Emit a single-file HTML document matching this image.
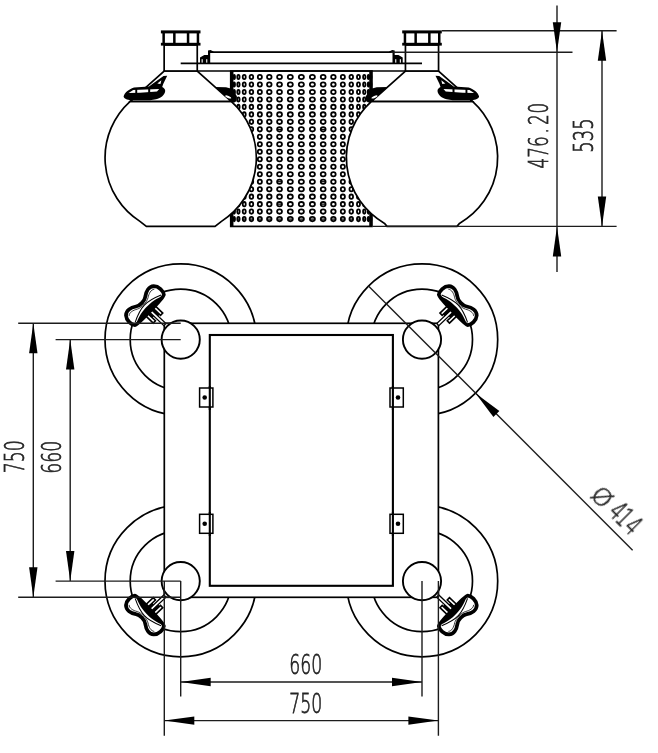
<!DOCTYPE html>
<html lang="en"><head><meta charset="utf-8"><title>Drawing 750 x 750, 476.20 / 535, Ø414</title>
<style>html,body{margin:0;padding:0;background:#fff}body{width:658px;height:753px;overflow:hidden}svg{display:block}.o{fill:none;stroke:#000;stroke-width:1.7}.w{fill:#fff;stroke:#000;stroke-width:1.7}.k{fill:#000;stroke:none}.d{fill:none;stroke:#1c1c1c;stroke-width:1.4}.a{fill:#000;stroke:none}.t{font-family:"DejaVu Sans Light","DejaVu Sans","Liberation Sans",sans-serif;font-weight:200;font-size:26.3px;fill:#222;stroke:#222;stroke-width:0.65px;vector-effect:non-scaling-stroke}.h{fill:none;stroke:#000;stroke-width:1.8}</style></head><body>
<svg width="658" height="753" viewBox="0 0 658 753">
<rect width="658" height="753" fill="#fff"/>
<g id="elevation">
<rect class="w" x="230.75" y="71" width="141.2" height="155.4"/>
<rect class="k" x="230.75" y="71" width="2.7" height="155.4"/>
<rect class="k" x="369.25" y="71" width="2.7" height="155.4"/>
<g class="h">
<ellipse cx="231.62" cy="77" rx="0.4" ry="2.15"/>
<ellipse cx="231.62" cy="84.48" rx="0.4" ry="2.15"/>
<ellipse cx="231.62" cy="91.96" rx="0.4" ry="2.15"/>
<ellipse cx="231.62" cy="99.44" rx="0.4" ry="2.15"/>
<ellipse cx="231.62" cy="106.92" rx="0.4" ry="2.15"/>
<ellipse cx="231.62" cy="114.4" rx="0.4" ry="2.15"/>
<ellipse cx="231.62" cy="121.87" rx="0.4" ry="2.15"/>
<ellipse cx="231.62" cy="129.35" rx="0.4" ry="2.15"/>
<ellipse cx="231.62" cy="136.83" rx="0.4" ry="2.15"/>
<ellipse cx="231.62" cy="144.31" rx="0.4" ry="2.15"/>
<ellipse cx="231.62" cy="151.79" rx="0.4" ry="2.15"/>
<ellipse cx="231.62" cy="159.27" rx="0.4" ry="2.15"/>
<ellipse cx="231.62" cy="166.75" rx="0.4" ry="2.15"/>
<ellipse cx="231.62" cy="174.23" rx="0.4" ry="2.15"/>
<ellipse cx="231.62" cy="181.71" rx="0.4" ry="2.15"/>
<ellipse cx="231.62" cy="189.19" rx="0.4" ry="2.15"/>
<ellipse cx="231.62" cy="196.66" rx="0.4" ry="2.15"/>
<ellipse cx="231.62" cy="204.14" rx="0.4" ry="2.15"/>
<ellipse cx="231.62" cy="211.62" rx="0.4" ry="2.15"/>
<ellipse cx="231.62" cy="219.1" rx="0.4" ry="2.15"/>
<ellipse cx="234.21" cy="77" rx="0.79" ry="2.15"/>
<ellipse cx="234.21" cy="84.48" rx="0.79" ry="2.15"/>
<ellipse cx="234.21" cy="91.96" rx="0.79" ry="2.15"/>
<ellipse cx="234.21" cy="99.44" rx="0.79" ry="2.15"/>
<ellipse cx="234.21" cy="106.92" rx="0.79" ry="2.15"/>
<ellipse cx="234.21" cy="114.4" rx="0.79" ry="2.15"/>
<ellipse cx="234.21" cy="121.87" rx="0.79" ry="2.15"/>
<ellipse cx="234.21" cy="129.35" rx="0.79" ry="2.15"/>
<ellipse cx="234.21" cy="136.83" rx="0.79" ry="2.15"/>
<ellipse cx="234.21" cy="144.31" rx="0.79" ry="2.15"/>
<ellipse cx="234.21" cy="151.79" rx="0.79" ry="2.15"/>
<ellipse cx="234.21" cy="159.27" rx="0.79" ry="2.15"/>
<ellipse cx="234.21" cy="166.75" rx="0.79" ry="2.15"/>
<ellipse cx="234.21" cy="174.23" rx="0.79" ry="2.15"/>
<ellipse cx="234.21" cy="181.71" rx="0.79" ry="2.15"/>
<ellipse cx="234.21" cy="189.19" rx="0.79" ry="2.15"/>
<ellipse cx="234.21" cy="196.66" rx="0.79" ry="2.15"/>
<ellipse cx="234.21" cy="204.14" rx="0.79" ry="2.15"/>
<ellipse cx="234.21" cy="211.62" rx="0.79" ry="2.15"/>
<ellipse cx="234.21" cy="219.1" rx="0.79" ry="2.15"/>
<ellipse cx="238.44" cy="77" rx="1.16" ry="2.15"/>
<ellipse cx="238.44" cy="84.48" rx="1.16" ry="2.15"/>
<ellipse cx="238.44" cy="91.96" rx="1.16" ry="2.15"/>
<ellipse cx="238.44" cy="99.44" rx="1.16" ry="2.15"/>
<ellipse cx="238.44" cy="106.92" rx="1.16" ry="2.15"/>
<ellipse cx="238.44" cy="114.4" rx="1.16" ry="2.15"/>
<ellipse cx="238.44" cy="121.87" rx="1.16" ry="2.15"/>
<ellipse cx="238.44" cy="129.35" rx="1.16" ry="2.15"/>
<ellipse cx="238.44" cy="136.83" rx="1.16" ry="2.15"/>
<ellipse cx="238.44" cy="144.31" rx="1.16" ry="2.15"/>
<ellipse cx="238.44" cy="151.79" rx="1.16" ry="2.15"/>
<ellipse cx="238.44" cy="159.27" rx="1.16" ry="2.15"/>
<ellipse cx="238.44" cy="166.75" rx="1.16" ry="2.15"/>
<ellipse cx="238.44" cy="174.23" rx="1.16" ry="2.15"/>
<ellipse cx="238.44" cy="181.71" rx="1.16" ry="2.15"/>
<ellipse cx="238.44" cy="189.19" rx="1.16" ry="2.15"/>
<ellipse cx="238.44" cy="196.66" rx="1.16" ry="2.15"/>
<ellipse cx="238.44" cy="204.14" rx="1.16" ry="2.15"/>
<ellipse cx="238.44" cy="211.62" rx="1.16" ry="2.15"/>
<ellipse cx="238.44" cy="219.1" rx="1.16" ry="2.15"/>
<ellipse cx="244.23" cy="77" rx="1.5" ry="2.15"/>
<ellipse cx="244.23" cy="84.48" rx="1.5" ry="2.15"/>
<ellipse cx="244.23" cy="91.96" rx="1.5" ry="2.15"/>
<ellipse cx="244.23" cy="99.44" rx="1.5" ry="2.15"/>
<ellipse cx="244.23" cy="106.92" rx="1.5" ry="2.15"/>
<ellipse cx="244.23" cy="114.4" rx="1.5" ry="2.15"/>
<ellipse cx="244.23" cy="121.87" rx="1.5" ry="2.15"/>
<ellipse cx="244.23" cy="129.35" rx="1.5" ry="2.15"/>
<ellipse cx="244.23" cy="136.83" rx="1.5" ry="2.15"/>
<ellipse cx="244.23" cy="144.31" rx="1.5" ry="2.15"/>
<ellipse cx="244.23" cy="151.79" rx="1.5" ry="2.15"/>
<ellipse cx="244.23" cy="159.27" rx="1.5" ry="2.15"/>
<ellipse cx="244.23" cy="166.75" rx="1.5" ry="2.15"/>
<ellipse cx="244.23" cy="174.23" rx="1.5" ry="2.15"/>
<ellipse cx="244.23" cy="181.71" rx="1.5" ry="2.15"/>
<ellipse cx="244.23" cy="189.19" rx="1.5" ry="2.15"/>
<ellipse cx="244.23" cy="196.66" rx="1.5" ry="2.15"/>
<ellipse cx="244.23" cy="204.14" rx="1.5" ry="2.15"/>
<ellipse cx="244.23" cy="211.62" rx="1.5" ry="2.15"/>
<ellipse cx="244.23" cy="219.1" rx="1.5" ry="2.15"/>
<ellipse cx="251.43" cy="77" rx="1.8" ry="2.15"/>
<ellipse cx="251.43" cy="84.48" rx="1.8" ry="2.15"/>
<ellipse cx="251.43" cy="91.96" rx="1.8" ry="2.15"/>
<ellipse cx="251.43" cy="99.44" rx="1.8" ry="2.15"/>
<ellipse cx="251.43" cy="106.92" rx="1.8" ry="2.15"/>
<ellipse cx="251.43" cy="114.4" rx="1.8" ry="2.15"/>
<ellipse cx="251.43" cy="121.87" rx="1.8" ry="2.15"/>
<ellipse cx="251.43" cy="129.35" rx="1.8" ry="2.15"/>
<ellipse cx="251.43" cy="136.83" rx="1.8" ry="2.15"/>
<ellipse cx="251.43" cy="144.31" rx="1.8" ry="2.15"/>
<ellipse cx="251.43" cy="151.79" rx="1.8" ry="2.15"/>
<ellipse cx="251.43" cy="159.27" rx="1.8" ry="2.15"/>
<ellipse cx="251.43" cy="166.75" rx="1.8" ry="2.15"/>
<ellipse cx="251.43" cy="174.23" rx="1.8" ry="2.15"/>
<ellipse cx="251.43" cy="181.71" rx="1.8" ry="2.15"/>
<ellipse cx="251.43" cy="189.19" rx="1.8" ry="2.15"/>
<ellipse cx="251.43" cy="196.66" rx="1.8" ry="2.15"/>
<ellipse cx="251.43" cy="204.14" rx="1.8" ry="2.15"/>
<ellipse cx="251.43" cy="211.62" rx="1.8" ry="2.15"/>
<ellipse cx="251.43" cy="219.1" rx="1.8" ry="2.15"/>
<ellipse cx="259.85" cy="77" rx="2.06" ry="2.15"/>
<ellipse cx="259.85" cy="84.48" rx="2.06" ry="2.15"/>
<ellipse cx="259.85" cy="91.96" rx="2.06" ry="2.15"/>
<ellipse cx="259.85" cy="99.44" rx="2.06" ry="2.15"/>
<ellipse cx="259.85" cy="106.92" rx="2.06" ry="2.15"/>
<ellipse cx="259.85" cy="114.4" rx="2.06" ry="2.15"/>
<ellipse cx="259.85" cy="121.87" rx="2.06" ry="2.15"/>
<ellipse cx="259.85" cy="129.35" rx="2.06" ry="2.15"/>
<ellipse cx="259.85" cy="136.83" rx="2.06" ry="2.15"/>
<ellipse cx="259.85" cy="144.31" rx="2.06" ry="2.15"/>
<ellipse cx="259.85" cy="151.79" rx="2.06" ry="2.15"/>
<ellipse cx="259.85" cy="159.27" rx="2.06" ry="2.15"/>
<ellipse cx="259.85" cy="166.75" rx="2.06" ry="2.15"/>
<ellipse cx="259.85" cy="174.23" rx="2.06" ry="2.15"/>
<ellipse cx="259.85" cy="181.71" rx="2.06" ry="2.15"/>
<ellipse cx="259.85" cy="189.19" rx="2.06" ry="2.15"/>
<ellipse cx="259.85" cy="196.66" rx="2.06" ry="2.15"/>
<ellipse cx="259.85" cy="204.14" rx="2.06" ry="2.15"/>
<ellipse cx="259.85" cy="211.62" rx="2.06" ry="2.15"/>
<ellipse cx="259.85" cy="219.1" rx="2.06" ry="2.15"/>
<ellipse cx="269.3" cy="77" rx="2.27" ry="2.15"/>
<ellipse cx="269.3" cy="84.48" rx="2.27" ry="2.15"/>
<ellipse cx="269.3" cy="91.96" rx="2.27" ry="2.15"/>
<ellipse cx="269.3" cy="99.44" rx="2.27" ry="2.15"/>
<ellipse cx="269.3" cy="106.92" rx="2.27" ry="2.15"/>
<ellipse cx="269.3" cy="114.4" rx="2.27" ry="2.15"/>
<ellipse cx="269.3" cy="121.87" rx="2.27" ry="2.15"/>
<ellipse cx="269.3" cy="129.35" rx="2.27" ry="2.15"/>
<ellipse cx="269.3" cy="136.83" rx="2.27" ry="2.15"/>
<ellipse cx="269.3" cy="144.31" rx="2.27" ry="2.15"/>
<ellipse cx="269.3" cy="151.79" rx="2.27" ry="2.15"/>
<ellipse cx="269.3" cy="159.27" rx="2.27" ry="2.15"/>
<ellipse cx="269.3" cy="166.75" rx="2.27" ry="2.15"/>
<ellipse cx="269.3" cy="174.23" rx="2.27" ry="2.15"/>
<ellipse cx="269.3" cy="181.71" rx="2.27" ry="2.15"/>
<ellipse cx="269.3" cy="189.19" rx="2.27" ry="2.15"/>
<ellipse cx="269.3" cy="196.66" rx="2.27" ry="2.15"/>
<ellipse cx="269.3" cy="204.14" rx="2.27" ry="2.15"/>
<ellipse cx="269.3" cy="211.62" rx="2.27" ry="2.15"/>
<ellipse cx="269.3" cy="219.1" rx="2.27" ry="2.15"/>
<ellipse cx="279.53" cy="77" rx="2.43" ry="2.15"/>
<ellipse cx="279.53" cy="84.48" rx="2.43" ry="2.15"/>
<ellipse cx="279.53" cy="91.96" rx="2.43" ry="2.15"/>
<ellipse cx="279.53" cy="99.44" rx="2.43" ry="2.15"/>
<ellipse cx="279.53" cy="106.92" rx="2.43" ry="2.15"/>
<ellipse cx="279.53" cy="114.4" rx="2.43" ry="2.15"/>
<ellipse cx="279.53" cy="121.87" rx="2.43" ry="2.15"/>
<ellipse cx="279.53" cy="129.35" rx="2.43" ry="2.15"/>
<ellipse cx="279.53" cy="136.83" rx="2.43" ry="2.15"/>
<ellipse cx="279.53" cy="144.31" rx="2.43" ry="2.15"/>
<ellipse cx="279.53" cy="151.79" rx="2.43" ry="2.15"/>
<ellipse cx="279.53" cy="159.27" rx="2.43" ry="2.15"/>
<ellipse cx="279.53" cy="166.75" rx="2.43" ry="2.15"/>
<ellipse cx="279.53" cy="174.23" rx="2.43" ry="2.15"/>
<ellipse cx="279.53" cy="181.71" rx="2.43" ry="2.15"/>
<ellipse cx="279.53" cy="189.19" rx="2.43" ry="2.15"/>
<ellipse cx="279.53" cy="196.66" rx="2.43" ry="2.15"/>
<ellipse cx="279.53" cy="204.14" rx="2.43" ry="2.15"/>
<ellipse cx="279.53" cy="211.62" rx="2.43" ry="2.15"/>
<ellipse cx="279.53" cy="219.1" rx="2.43" ry="2.15"/>
<ellipse cx="290.31" cy="77" rx="2.52" ry="2.15"/>
<ellipse cx="290.31" cy="84.48" rx="2.52" ry="2.15"/>
<ellipse cx="290.31" cy="91.96" rx="2.52" ry="2.15"/>
<ellipse cx="290.31" cy="99.44" rx="2.52" ry="2.15"/>
<ellipse cx="290.31" cy="106.92" rx="2.52" ry="2.15"/>
<ellipse cx="290.31" cy="114.4" rx="2.52" ry="2.15"/>
<ellipse cx="290.31" cy="121.87" rx="2.52" ry="2.15"/>
<ellipse cx="290.31" cy="129.35" rx="2.52" ry="2.15"/>
<ellipse cx="290.31" cy="136.83" rx="2.52" ry="2.15"/>
<ellipse cx="290.31" cy="144.31" rx="2.52" ry="2.15"/>
<ellipse cx="290.31" cy="151.79" rx="2.52" ry="2.15"/>
<ellipse cx="290.31" cy="159.27" rx="2.52" ry="2.15"/>
<ellipse cx="290.31" cy="166.75" rx="2.52" ry="2.15"/>
<ellipse cx="290.31" cy="174.23" rx="2.52" ry="2.15"/>
<ellipse cx="290.31" cy="181.71" rx="2.52" ry="2.15"/>
<ellipse cx="290.31" cy="189.19" rx="2.52" ry="2.15"/>
<ellipse cx="290.31" cy="196.66" rx="2.52" ry="2.15"/>
<ellipse cx="290.31" cy="204.14" rx="2.52" ry="2.15"/>
<ellipse cx="290.31" cy="211.62" rx="2.52" ry="2.15"/>
<ellipse cx="290.31" cy="219.1" rx="2.52" ry="2.15"/>
<ellipse cx="301.35" cy="77" rx="2.55" ry="2.15"/>
<ellipse cx="301.35" cy="84.48" rx="2.55" ry="2.15"/>
<ellipse cx="301.35" cy="91.96" rx="2.55" ry="2.15"/>
<ellipse cx="301.35" cy="99.44" rx="2.55" ry="2.15"/>
<ellipse cx="301.35" cy="106.92" rx="2.55" ry="2.15"/>
<ellipse cx="301.35" cy="114.4" rx="2.55" ry="2.15"/>
<ellipse cx="301.35" cy="121.87" rx="2.55" ry="2.15"/>
<ellipse cx="301.35" cy="129.35" rx="2.55" ry="2.15"/>
<ellipse cx="301.35" cy="136.83" rx="2.55" ry="2.15"/>
<ellipse cx="301.35" cy="144.31" rx="2.55" ry="2.15"/>
<ellipse cx="301.35" cy="151.79" rx="2.55" ry="2.15"/>
<ellipse cx="301.35" cy="159.27" rx="2.55" ry="2.15"/>
<ellipse cx="301.35" cy="166.75" rx="2.55" ry="2.15"/>
<ellipse cx="301.35" cy="174.23" rx="2.55" ry="2.15"/>
<ellipse cx="301.35" cy="181.71" rx="2.55" ry="2.15"/>
<ellipse cx="301.35" cy="189.19" rx="2.55" ry="2.15"/>
<ellipse cx="301.35" cy="196.66" rx="2.55" ry="2.15"/>
<ellipse cx="301.35" cy="204.14" rx="2.55" ry="2.15"/>
<ellipse cx="301.35" cy="211.62" rx="2.55" ry="2.15"/>
<ellipse cx="301.35" cy="219.1" rx="2.55" ry="2.15"/>
<ellipse cx="312.39" cy="77" rx="2.52" ry="2.15"/>
<ellipse cx="312.39" cy="84.48" rx="2.52" ry="2.15"/>
<ellipse cx="312.39" cy="91.96" rx="2.52" ry="2.15"/>
<ellipse cx="312.39" cy="99.44" rx="2.52" ry="2.15"/>
<ellipse cx="312.39" cy="106.92" rx="2.52" ry="2.15"/>
<ellipse cx="312.39" cy="114.4" rx="2.52" ry="2.15"/>
<ellipse cx="312.39" cy="121.87" rx="2.52" ry="2.15"/>
<ellipse cx="312.39" cy="129.35" rx="2.52" ry="2.15"/>
<ellipse cx="312.39" cy="136.83" rx="2.52" ry="2.15"/>
<ellipse cx="312.39" cy="144.31" rx="2.52" ry="2.15"/>
<ellipse cx="312.39" cy="151.79" rx="2.52" ry="2.15"/>
<ellipse cx="312.39" cy="159.27" rx="2.52" ry="2.15"/>
<ellipse cx="312.39" cy="166.75" rx="2.52" ry="2.15"/>
<ellipse cx="312.39" cy="174.23" rx="2.52" ry="2.15"/>
<ellipse cx="312.39" cy="181.71" rx="2.52" ry="2.15"/>
<ellipse cx="312.39" cy="189.19" rx="2.52" ry="2.15"/>
<ellipse cx="312.39" cy="196.66" rx="2.52" ry="2.15"/>
<ellipse cx="312.39" cy="204.14" rx="2.52" ry="2.15"/>
<ellipse cx="312.39" cy="211.62" rx="2.52" ry="2.15"/>
<ellipse cx="312.39" cy="219.1" rx="2.52" ry="2.15"/>
<ellipse cx="323.17" cy="77" rx="2.43" ry="2.15"/>
<ellipse cx="323.17" cy="84.48" rx="2.43" ry="2.15"/>
<ellipse cx="323.17" cy="91.96" rx="2.43" ry="2.15"/>
<ellipse cx="323.17" cy="99.44" rx="2.43" ry="2.15"/>
<ellipse cx="323.17" cy="106.92" rx="2.43" ry="2.15"/>
<ellipse cx="323.17" cy="114.4" rx="2.43" ry="2.15"/>
<ellipse cx="323.17" cy="121.87" rx="2.43" ry="2.15"/>
<ellipse cx="323.17" cy="129.35" rx="2.43" ry="2.15"/>
<ellipse cx="323.17" cy="136.83" rx="2.43" ry="2.15"/>
<ellipse cx="323.17" cy="144.31" rx="2.43" ry="2.15"/>
<ellipse cx="323.17" cy="151.79" rx="2.43" ry="2.15"/>
<ellipse cx="323.17" cy="159.27" rx="2.43" ry="2.15"/>
<ellipse cx="323.17" cy="166.75" rx="2.43" ry="2.15"/>
<ellipse cx="323.17" cy="174.23" rx="2.43" ry="2.15"/>
<ellipse cx="323.17" cy="181.71" rx="2.43" ry="2.15"/>
<ellipse cx="323.17" cy="189.19" rx="2.43" ry="2.15"/>
<ellipse cx="323.17" cy="196.66" rx="2.43" ry="2.15"/>
<ellipse cx="323.17" cy="204.14" rx="2.43" ry="2.15"/>
<ellipse cx="323.17" cy="211.62" rx="2.43" ry="2.15"/>
<ellipse cx="323.17" cy="219.1" rx="2.43" ry="2.15"/>
<ellipse cx="333.4" cy="77" rx="2.27" ry="2.15"/>
<ellipse cx="333.4" cy="84.48" rx="2.27" ry="2.15"/>
<ellipse cx="333.4" cy="91.96" rx="2.27" ry="2.15"/>
<ellipse cx="333.4" cy="99.44" rx="2.27" ry="2.15"/>
<ellipse cx="333.4" cy="106.92" rx="2.27" ry="2.15"/>
<ellipse cx="333.4" cy="114.4" rx="2.27" ry="2.15"/>
<ellipse cx="333.4" cy="121.87" rx="2.27" ry="2.15"/>
<ellipse cx="333.4" cy="129.35" rx="2.27" ry="2.15"/>
<ellipse cx="333.4" cy="136.83" rx="2.27" ry="2.15"/>
<ellipse cx="333.4" cy="144.31" rx="2.27" ry="2.15"/>
<ellipse cx="333.4" cy="151.79" rx="2.27" ry="2.15"/>
<ellipse cx="333.4" cy="159.27" rx="2.27" ry="2.15"/>
<ellipse cx="333.4" cy="166.75" rx="2.27" ry="2.15"/>
<ellipse cx="333.4" cy="174.23" rx="2.27" ry="2.15"/>
<ellipse cx="333.4" cy="181.71" rx="2.27" ry="2.15"/>
<ellipse cx="333.4" cy="189.19" rx="2.27" ry="2.15"/>
<ellipse cx="333.4" cy="196.66" rx="2.27" ry="2.15"/>
<ellipse cx="333.4" cy="204.14" rx="2.27" ry="2.15"/>
<ellipse cx="333.4" cy="211.62" rx="2.27" ry="2.15"/>
<ellipse cx="333.4" cy="219.1" rx="2.27" ry="2.15"/>
<ellipse cx="342.85" cy="77" rx="2.06" ry="2.15"/>
<ellipse cx="342.85" cy="84.48" rx="2.06" ry="2.15"/>
<ellipse cx="342.85" cy="91.96" rx="2.06" ry="2.15"/>
<ellipse cx="342.85" cy="99.44" rx="2.06" ry="2.15"/>
<ellipse cx="342.85" cy="106.92" rx="2.06" ry="2.15"/>
<ellipse cx="342.85" cy="114.4" rx="2.06" ry="2.15"/>
<ellipse cx="342.85" cy="121.87" rx="2.06" ry="2.15"/>
<ellipse cx="342.85" cy="129.35" rx="2.06" ry="2.15"/>
<ellipse cx="342.85" cy="136.83" rx="2.06" ry="2.15"/>
<ellipse cx="342.85" cy="144.31" rx="2.06" ry="2.15"/>
<ellipse cx="342.85" cy="151.79" rx="2.06" ry="2.15"/>
<ellipse cx="342.85" cy="159.27" rx="2.06" ry="2.15"/>
<ellipse cx="342.85" cy="166.75" rx="2.06" ry="2.15"/>
<ellipse cx="342.85" cy="174.23" rx="2.06" ry="2.15"/>
<ellipse cx="342.85" cy="181.71" rx="2.06" ry="2.15"/>
<ellipse cx="342.85" cy="189.19" rx="2.06" ry="2.15"/>
<ellipse cx="342.85" cy="196.66" rx="2.06" ry="2.15"/>
<ellipse cx="342.85" cy="204.14" rx="2.06" ry="2.15"/>
<ellipse cx="342.85" cy="211.62" rx="2.06" ry="2.15"/>
<ellipse cx="342.85" cy="219.1" rx="2.06" ry="2.15"/>
<ellipse cx="351.27" cy="77" rx="1.8" ry="2.15"/>
<ellipse cx="351.27" cy="84.48" rx="1.8" ry="2.15"/>
<ellipse cx="351.27" cy="91.96" rx="1.8" ry="2.15"/>
<ellipse cx="351.27" cy="99.44" rx="1.8" ry="2.15"/>
<ellipse cx="351.27" cy="106.92" rx="1.8" ry="2.15"/>
<ellipse cx="351.27" cy="114.4" rx="1.8" ry="2.15"/>
<ellipse cx="351.27" cy="121.87" rx="1.8" ry="2.15"/>
<ellipse cx="351.27" cy="129.35" rx="1.8" ry="2.15"/>
<ellipse cx="351.27" cy="136.83" rx="1.8" ry="2.15"/>
<ellipse cx="351.27" cy="144.31" rx="1.8" ry="2.15"/>
<ellipse cx="351.27" cy="151.79" rx="1.8" ry="2.15"/>
<ellipse cx="351.27" cy="159.27" rx="1.8" ry="2.15"/>
<ellipse cx="351.27" cy="166.75" rx="1.8" ry="2.15"/>
<ellipse cx="351.27" cy="174.23" rx="1.8" ry="2.15"/>
<ellipse cx="351.27" cy="181.71" rx="1.8" ry="2.15"/>
<ellipse cx="351.27" cy="189.19" rx="1.8" ry="2.15"/>
<ellipse cx="351.27" cy="196.66" rx="1.8" ry="2.15"/>
<ellipse cx="351.27" cy="204.14" rx="1.8" ry="2.15"/>
<ellipse cx="351.27" cy="211.62" rx="1.8" ry="2.15"/>
<ellipse cx="351.27" cy="219.1" rx="1.8" ry="2.15"/>
<ellipse cx="358.47" cy="77" rx="1.5" ry="2.15"/>
<ellipse cx="358.47" cy="84.48" rx="1.5" ry="2.15"/>
<ellipse cx="358.47" cy="91.96" rx="1.5" ry="2.15"/>
<ellipse cx="358.47" cy="99.44" rx="1.5" ry="2.15"/>
<ellipse cx="358.47" cy="106.92" rx="1.5" ry="2.15"/>
<ellipse cx="358.47" cy="114.4" rx="1.5" ry="2.15"/>
<ellipse cx="358.47" cy="121.87" rx="1.5" ry="2.15"/>
<ellipse cx="358.47" cy="129.35" rx="1.5" ry="2.15"/>
<ellipse cx="358.47" cy="136.83" rx="1.5" ry="2.15"/>
<ellipse cx="358.47" cy="144.31" rx="1.5" ry="2.15"/>
<ellipse cx="358.47" cy="151.79" rx="1.5" ry="2.15"/>
<ellipse cx="358.47" cy="159.27" rx="1.5" ry="2.15"/>
<ellipse cx="358.47" cy="166.75" rx="1.5" ry="2.15"/>
<ellipse cx="358.47" cy="174.23" rx="1.5" ry="2.15"/>
<ellipse cx="358.47" cy="181.71" rx="1.5" ry="2.15"/>
<ellipse cx="358.47" cy="189.19" rx="1.5" ry="2.15"/>
<ellipse cx="358.47" cy="196.66" rx="1.5" ry="2.15"/>
<ellipse cx="358.47" cy="204.14" rx="1.5" ry="2.15"/>
<ellipse cx="358.47" cy="211.62" rx="1.5" ry="2.15"/>
<ellipse cx="358.47" cy="219.1" rx="1.5" ry="2.15"/>
<ellipse cx="364.26" cy="77" rx="1.16" ry="2.15"/>
<ellipse cx="364.26" cy="84.48" rx="1.16" ry="2.15"/>
<ellipse cx="364.26" cy="91.96" rx="1.16" ry="2.15"/>
<ellipse cx="364.26" cy="99.44" rx="1.16" ry="2.15"/>
<ellipse cx="364.26" cy="106.92" rx="1.16" ry="2.15"/>
<ellipse cx="364.26" cy="114.4" rx="1.16" ry="2.15"/>
<ellipse cx="364.26" cy="121.87" rx="1.16" ry="2.15"/>
<ellipse cx="364.26" cy="129.35" rx="1.16" ry="2.15"/>
<ellipse cx="364.26" cy="136.83" rx="1.16" ry="2.15"/>
<ellipse cx="364.26" cy="144.31" rx="1.16" ry="2.15"/>
<ellipse cx="364.26" cy="151.79" rx="1.16" ry="2.15"/>
<ellipse cx="364.26" cy="159.27" rx="1.16" ry="2.15"/>
<ellipse cx="364.26" cy="166.75" rx="1.16" ry="2.15"/>
<ellipse cx="364.26" cy="174.23" rx="1.16" ry="2.15"/>
<ellipse cx="364.26" cy="181.71" rx="1.16" ry="2.15"/>
<ellipse cx="364.26" cy="189.19" rx="1.16" ry="2.15"/>
<ellipse cx="364.26" cy="196.66" rx="1.16" ry="2.15"/>
<ellipse cx="364.26" cy="204.14" rx="1.16" ry="2.15"/>
<ellipse cx="364.26" cy="211.62" rx="1.16" ry="2.15"/>
<ellipse cx="364.26" cy="219.1" rx="1.16" ry="2.15"/>
<ellipse cx="368.49" cy="77" rx="0.79" ry="2.15"/>
<ellipse cx="368.49" cy="84.48" rx="0.79" ry="2.15"/>
<ellipse cx="368.49" cy="91.96" rx="0.79" ry="2.15"/>
<ellipse cx="368.49" cy="99.44" rx="0.79" ry="2.15"/>
<ellipse cx="368.49" cy="106.92" rx="0.79" ry="2.15"/>
<ellipse cx="368.49" cy="114.4" rx="0.79" ry="2.15"/>
<ellipse cx="368.49" cy="121.87" rx="0.79" ry="2.15"/>
<ellipse cx="368.49" cy="129.35" rx="0.79" ry="2.15"/>
<ellipse cx="368.49" cy="136.83" rx="0.79" ry="2.15"/>
<ellipse cx="368.49" cy="144.31" rx="0.79" ry="2.15"/>
<ellipse cx="368.49" cy="151.79" rx="0.79" ry="2.15"/>
<ellipse cx="368.49" cy="159.27" rx="0.79" ry="2.15"/>
<ellipse cx="368.49" cy="166.75" rx="0.79" ry="2.15"/>
<ellipse cx="368.49" cy="174.23" rx="0.79" ry="2.15"/>
<ellipse cx="368.49" cy="181.71" rx="0.79" ry="2.15"/>
<ellipse cx="368.49" cy="189.19" rx="0.79" ry="2.15"/>
<ellipse cx="368.49" cy="196.66" rx="0.79" ry="2.15"/>
<ellipse cx="368.49" cy="204.14" rx="0.79" ry="2.15"/>
<ellipse cx="368.49" cy="211.62" rx="0.79" ry="2.15"/>
<ellipse cx="368.49" cy="219.1" rx="0.79" ry="2.15"/>
<ellipse cx="371.08" cy="77" rx="0.4" ry="2.15"/>
<ellipse cx="371.08" cy="84.48" rx="0.4" ry="2.15"/>
<ellipse cx="371.08" cy="91.96" rx="0.4" ry="2.15"/>
<ellipse cx="371.08" cy="99.44" rx="0.4" ry="2.15"/>
<ellipse cx="371.08" cy="106.92" rx="0.4" ry="2.15"/>
<ellipse cx="371.08" cy="114.4" rx="0.4" ry="2.15"/>
<ellipse cx="371.08" cy="121.87" rx="0.4" ry="2.15"/>
<ellipse cx="371.08" cy="129.35" rx="0.4" ry="2.15"/>
<ellipse cx="371.08" cy="136.83" rx="0.4" ry="2.15"/>
<ellipse cx="371.08" cy="144.31" rx="0.4" ry="2.15"/>
<ellipse cx="371.08" cy="151.79" rx="0.4" ry="2.15"/>
<ellipse cx="371.08" cy="159.27" rx="0.4" ry="2.15"/>
<ellipse cx="371.08" cy="166.75" rx="0.4" ry="2.15"/>
<ellipse cx="371.08" cy="174.23" rx="0.4" ry="2.15"/>
<ellipse cx="371.08" cy="181.71" rx="0.4" ry="2.15"/>
<ellipse cx="371.08" cy="189.19" rx="0.4" ry="2.15"/>
<ellipse cx="371.08" cy="196.66" rx="0.4" ry="2.15"/>
<ellipse cx="371.08" cy="204.14" rx="0.4" ry="2.15"/>
<ellipse cx="371.08" cy="211.62" rx="0.4" ry="2.15"/>
<ellipse cx="371.08" cy="219.1" rx="0.4" ry="2.15"/>
</g>
<g class="d" style="stroke:#000;stroke-width:1.2">
<path d="M231.22 219.1H232.02"/>
<path d="M233.42 219.1H234.99"/>
<path d="M237.29 219.1H239.6"/>
<path d="M242.73 219.1H245.73"/>
<path d="M249.63 219.1H253.23"/>
<path d="M257.79 219.1H261.92"/>
<path d="M267.03 219.1H271.57"/>
<path d="M277.11 129.35H281.96"/>
<path d="M277.11 181.71H281.96"/>
<path d="M277.11 204.14H281.96"/>
<path d="M277.11 219.1H281.96"/>
<path d="M287.79 219.1H292.82"/>
<path d="M298.8 219.1H303.9"/>
<path d="M309.88 219.1H314.91"/>
<path d="M320.74 129.35H325.59"/>
<path d="M320.74 181.71H325.59"/>
<path d="M320.74 204.14H325.59"/>
<path d="M320.74 219.1H325.59"/>
<path d="M331.13 219.1H335.67"/>
<path d="M340.78 219.1H344.91"/>
<path d="M349.47 219.1H353.07"/>
<path d="M356.97 219.1H359.97"/>
<path d="M363.1 219.1H365.41"/>
<path d="M367.71 219.1H369.28"/>
<path d="M370.68 219.1H371.48"/>
</g>
<path class="w" d="M130.2 101.3A75.7 75.7 0 0 0 140.27 221.6L146.4 226.4H215L221.13 221.6A75.7 75.7 0 0 0 231.2 101.3Z"/>
<path class="w" d="M130.2 101.3L164.15 71H197.25L231.2 101.3Z"/>
<rect class="w" x="164.15" y="45" width="33.1" height="26"/>
<rect fill="#fff" x="161.4" y="31.45" width="38.6" height="12.8"/>
<rect class="k" x="160.9" y="30.4" width="39.6" height="3"/>
<rect class="k" x="160.9" y="42.8" width="39.6" height="2.8"/>
<rect class="k" x="162.4" y="31.7" width="2.5" height="12"/>
<rect class="k" x="173.1" y="31.7" width="2.5" height="12"/>
<rect class="k" x="186.8" y="31.7" width="2.5" height="12"/>
<rect class="k" x="196.7" y="31.7" width="2.5" height="12"/>
<path class="w" d="M371.5 101.3A75.7 75.7 0 0 0 384.57 223.4L387 226.4H457L459.43 223.4A75.7 75.7 0 0 0 472.5 101.3Z"/>
<path class="w" d="M371.5 101.3L405.45 71H438.55L472.5 101.3Z"/>
<rect class="w" x="405.45" y="45" width="33.1" height="26"/>
<rect fill="#fff" x="402.7" y="31.45" width="38.6" height="12.8"/>
<rect class="k" x="402.2" y="30.4" width="39.6" height="3"/>
<rect class="k" x="402.2" y="42.8" width="39.6" height="2.8"/>
<rect class="k" x="403.7" y="31.7" width="2.5" height="12"/>
<rect class="k" x="414.4" y="31.7" width="2.5" height="12"/>
<rect class="k" x="428.1" y="31.7" width="2.5" height="12"/>
<rect class="k" x="438" y="31.7" width="2.5" height="12"/>
<path class="k" d="M215.2 87L226 87.3L232.5 89L237 96.5L236.5 101.5L231.3 101.6Z"/>
<ellipse fill="#fff" cx="228.2" cy="96.9" rx="3.3" ry="1.1" transform="rotate(22 228.2 96.9)"/>
<path class="k" d="M387.5 87L376.7 87.3L370.2 89L365.7 96.5L366.2 101.5L371.4 101.6Z"/>
<ellipse fill="#fff" cx="374.5" cy="96.9" rx="3.3" ry="1.1" transform="rotate(-22 374.5 96.9)"/>
<path class="o" style="stroke-width:1.7" d="M180.7 63.4H422"/>
<path class="o" d="M212 52.2H390.7"/>
<path class="o" d="M197.25 71H405.45"/>
<path class="k" d="M200 63.4V57.4L204.3 55H208V50.6L210.5 50L213.5 51.5V53H210.2V63.4Z"/>
<rect fill="#fff" x="201.6" y="59.2" width="1.1" height="3.4"/>
<rect fill="#fff" x="206.2" y="59.2" width="1.1" height="3.4"/>
<path class="k" d="M402.7 63.4V57.4L398.4 55H394.7V50.6L392.2 50L389.2 51.5V53H392.5V63.4Z"/>
<rect fill="#fff" x="399.8" y="59.2" width="1.1" height="3.4"/>
<rect fill="#fff" x="395.2" y="59.2" width="1.1" height="3.4"/>
<path class="k" d="M123.6 96.6C124.5 93 128.5 89.4 134 87.6L149 86.6L153 83.4L163.5 76L167.2 75.8L163.2 84L162.2 87C164 88 165.3 89 165.2 91C164.8 95 161 98 156 99.3L150 100.2H131C127 100 124 98.6 123.6 96.6Z"/>
<path fill="#fff" d="M128.6 92.9L133.2 89.9L159.2 88.9L157 91.4L140 92.7Z"/>
<path class="k" d="M135.3 88.5h1.9v5h-1.9ZM148.2 88h2v5h-2Z"/>
<path fill="#fff" d="M157.3 83.6L161.4 80.2L160.4 84Z"/>
<path class="k" d="M479.1 96.6C478.2 93 474.2 89.4 468.7 87.6L453.7 86.6L449.7 83.4L439.2 76L435.5 75.8L439.5 84L440.5 87C438.7 88 437.4 89 437.5 91C437.9 95 441.7 98 446.7 99.3L452.7 100.2H471.7C475.7 100 478.7 98.6 479.1 96.6Z"/>
<path fill="#fff" d="M474.1 92.9L469.5 89.9L443.5 88.9L445.7 91.4L462.7 92.7Z"/>
<path class="k" d="M467.4 88.5h-1.9v5h1.9ZM454.5 88h-2v5h2Z"/>
<path fill="#fff" d="M445.4 83.6L441.3 80.2L442.3 84Z"/>
</g>
<g id="dims-elev" class="d">
<path d="M441.8 30.7H616.6M390.7 52.2H572.5M372.5 226.4H616.6M557 5.5V272M602 31V226"/>
</g>
<path class="a" d="M0 0L-30 -4.2L-30 4.2Z" transform="translate(557 52.3) rotate(90)"/>
<path class="a" d="M0 0L-30 -4.2L-30 4.2Z" transform="translate(557 226.4) rotate(-90)"/>
<path class="a" d="M0 0L-30 -4.2L-30 4.2Z" transform="translate(602 30.7) rotate(-90)"/>
<path class="a" d="M0 0L-30 -4.2L-30 4.2Z" transform="translate(602 226.4) rotate(90)"/>
<g id="plan">
<circle class="o" cx="180.7" cy="339.6" r="75.7"/>
<circle class="o" cx="180.7" cy="339.6" r="50.5"/>
<circle class="o" cx="180.7" cy="581.1" r="75.7"/>
<circle class="o" cx="180.7" cy="581.1" r="50.5"/>
<circle class="o" cx="422" cy="339.6" r="75.7"/>
<circle class="o" cx="422" cy="339.6" r="50.5"/>
<circle class="o" cx="422" cy="581.1" r="75.7"/>
<circle class="o" cx="422" cy="581.1" r="50.5"/>
<rect class="w" x="164.3" y="323.3" width="274.1" height="274"/>
<rect class="o" style="stroke-width:2.1" x="209.8" y="335" width="183.1" height="250.8"/>
<rect class="w" style="stroke-width:1.5" x="199.6" y="388" width="13.3" height="19"/>
<circle class="k" cx="204.7" cy="397.5" r="2.3"/>
<rect class="w" style="stroke-width:1.5" x="199.6" y="514.3" width="13.3" height="19"/>
<circle class="k" cx="204.7" cy="523.8" r="2.3"/>
<rect class="w" style="stroke-width:1.5" x="390" y="388" width="13.3" height="19"/>
<circle class="k" cx="398" cy="397.5" r="2.3"/>
<rect class="w" style="stroke-width:1.5" x="390" y="514.3" width="13.3" height="19"/>
<circle class="k" cx="398" cy="523.8" r="2.3"/>
<path class="o" style="stroke-width:2.1" d="M209.8 386V410M209.8 512V536M392.9 386V410M392.9 512V536"/>
<circle class="w" style="stroke-width:1.9" cx="180.7" cy="339.6" r="19.1"/>
<circle class="w" style="stroke-width:1.9" cx="180.7" cy="581.1" r="19.1"/>
<circle class="w" style="stroke-width:1.9" cx="422" cy="339.6" r="19.1"/>
<circle class="w" style="stroke-width:1.9" cx="422" cy="581.1" r="19.1"/>
<g transform="translate(180.7 339.6) scale(1 1) rotate(223.5)">
<path class="w" style="stroke-width:1.3" d="M21.8 -1.5H42V1.5H21.8Z"/>
<path class="w" style="stroke-width:1.6" d="M31.3 3.7H42V6.9H31.3ZM31.3 -6.9H42V-3.7H31.3Z"/>
<path class="k" d="M32.5 1.5H42V4H32.5ZM35.5 -4H42V-1.5H35.5Z"/>
<g transform="translate(50.2 0) scale(1.05 1.045) translate(-50 0)">
<path class="w" style="stroke-width:3.6" d="M43.3 -20.1C45.8 -22.3 52.3 -22.6 55.8 -19.3C59.1 -15.8 57.6 -10.5 54.8 -6.5C52.4 -3.5 52.4 3.5 54.8 6.5C57.6 10.5 59.1 15.8 55.8 19.3C52.3 22.6 45.8 22.3 43.3 20.1C41.8 18.8 42.1 10 42.1 0C42.1 -10 41.8 -18.8 43.3 -20.1Z"/>
<path class="k" d="M42.3 -20C46.3 -13 47.2 -6 47.2 0C47.2 6 46.3 13 42.3 20Z"/>
<path fill="none" stroke="#000" stroke-width="1" d="M45 -18C48.6 -10 49.9 -5 49.9 0C49.9 5 48.6 10 45 18"/>
<path fill="none" stroke="#000" stroke-width="0.7" d="M53.4 -17.5C55.6 -15.2 54.4 -11 52.2 -7.5C50.1 -4 50.1 4 52.2 7.5C54.4 11 55.6 15.2 53.4 17.5"/>
</g>
</g>
<g transform="translate(422 339.6) scale(-1 1) rotate(223.5)">
<path class="w" style="stroke-width:1.3" d="M21.8 -1.5H42V1.5H21.8Z"/>
<path class="w" style="stroke-width:1.6" d="M31.3 3.7H42V6.9H31.3ZM31.3 -6.9H42V-3.7H31.3Z"/>
<path class="k" d="M32.5 1.5H42V4H32.5ZM35.5 -4H42V-1.5H35.5Z"/>
<g transform="translate(50.2 0) scale(1.05 1.045) translate(-50 0)">
<path class="w" style="stroke-width:3.6" d="M43.3 -20.1C45.8 -22.3 52.3 -22.6 55.8 -19.3C59.1 -15.8 57.6 -10.5 54.8 -6.5C52.4 -3.5 52.4 3.5 54.8 6.5C57.6 10.5 59.1 15.8 55.8 19.3C52.3 22.6 45.8 22.3 43.3 20.1C41.8 18.8 42.1 10 42.1 0C42.1 -10 41.8 -18.8 43.3 -20.1Z"/>
<path class="k" d="M42.3 -20C46.3 -13 47.2 -6 47.2 0C47.2 6 46.3 13 42.3 20Z"/>
<path fill="none" stroke="#000" stroke-width="1" d="M45 -18C48.6 -10 49.9 -5 49.9 0C49.9 5 48.6 10 45 18"/>
<path fill="none" stroke="#000" stroke-width="0.7" d="M53.4 -17.5C55.6 -15.2 54.4 -11 52.2 -7.5C50.1 -4 50.1 4 52.2 7.5C54.4 11 55.6 15.2 53.4 17.5"/>
</g>
</g>
<g transform="translate(180.7 581.1) scale(1 -1) rotate(223.5)">
<path class="w" style="stroke-width:1.3" d="M21.8 -1.5H42V1.5H21.8Z"/>
<path class="w" style="stroke-width:1.6" d="M31.3 3.7H42V6.9H31.3ZM31.3 -6.9H42V-3.7H31.3Z"/>
<path class="k" d="M32.5 1.5H42V4H32.5ZM35.5 -4H42V-1.5H35.5Z"/>
<g transform="translate(50.2 0) scale(1.05 1.045) translate(-50 0)">
<path class="w" style="stroke-width:3.6" d="M43.3 -20.1C45.8 -22.3 52.3 -22.6 55.8 -19.3C59.1 -15.8 57.6 -10.5 54.8 -6.5C52.4 -3.5 52.4 3.5 54.8 6.5C57.6 10.5 59.1 15.8 55.8 19.3C52.3 22.6 45.8 22.3 43.3 20.1C41.8 18.8 42.1 10 42.1 0C42.1 -10 41.8 -18.8 43.3 -20.1Z"/>
<path class="k" d="M42.3 -20C46.3 -13 47.2 -6 47.2 0C47.2 6 46.3 13 42.3 20Z"/>
<path fill="none" stroke="#000" stroke-width="1" d="M45 -18C48.6 -10 49.9 -5 49.9 0C49.9 5 48.6 10 45 18"/>
<path fill="none" stroke="#000" stroke-width="0.7" d="M53.4 -17.5C55.6 -15.2 54.4 -11 52.2 -7.5C50.1 -4 50.1 4 52.2 7.5C54.4 11 55.6 15.2 53.4 17.5"/>
</g>
</g>
<g transform="translate(422 581.1) scale(-1 -1) rotate(223.5)">
<path class="w" style="stroke-width:1.3" d="M21.8 -1.5H42V1.5H21.8Z"/>
<path class="w" style="stroke-width:1.6" d="M31.3 3.7H42V6.9H31.3ZM31.3 -6.9H42V-3.7H31.3Z"/>
<path class="k" d="M32.5 1.5H42V4H32.5ZM35.5 -4H42V-1.5H35.5Z"/>
<g transform="translate(50.2 0) scale(1.05 1.045) translate(-50 0)">
<path class="w" style="stroke-width:3.6" d="M43.3 -20.1C45.8 -22.3 52.3 -22.6 55.8 -19.3C59.1 -15.8 57.6 -10.5 54.8 -6.5C52.4 -3.5 52.4 3.5 54.8 6.5C57.6 10.5 59.1 15.8 55.8 19.3C52.3 22.6 45.8 22.3 43.3 20.1C41.8 18.8 42.1 10 42.1 0C42.1 -10 41.8 -18.8 43.3 -20.1Z"/>
<path class="k" d="M42.3 -20C46.3 -13 47.2 -6 47.2 0C47.2 6 46.3 13 42.3 20Z"/>
<path fill="none" stroke="#000" stroke-width="1" d="M45 -18C48.6 -10 49.9 -5 49.9 0C49.9 5 48.6 10 45 18"/>
<path fill="none" stroke="#000" stroke-width="0.7" d="M53.4 -17.5C55.6 -15.2 54.4 -11 52.2 -7.5C50.1 -4 50.1 4 52.2 7.5C54.4 11 55.6 15.2 53.4 17.5"/>
</g>
</g>
</g>
<g id="dims-plan" class="d">
<path d="M18.2 323.3 H180.7 M55.6 339.6 H180.7 M18.2 597.3 H180.7 M55.6 581.1 H180.7"/>
<path d="M33.3 323.3V597.3M70.2 339.6V581.1"/>
<path d="M164.3 581.1V735.8M438.4 581.1V735.8M180.7 581.1V696.6M422 581.1V696.6"/>
<path d="M180.7 682H422M164.3 720.6H438.4"/>
<path d="M368.47 286.07L632.6 550.2"/>
</g>
<path class="a" d="M0 0L-30 -4.2L-30 4.2Z" transform="translate(33.3 323.3) rotate(-90)"/>
<path class="a" d="M0 0L-30 -4.2L-30 4.2Z" transform="translate(33.3 597.3) rotate(90)"/>
<path class="a" d="M0 0L-30 -4.2L-30 4.2Z" transform="translate(70.2 339.6) rotate(-90)"/>
<path class="a" d="M0 0L-30 -4.2L-30 4.2Z" transform="translate(70.2 581.1) rotate(90)"/>
<path class="a" d="M0 0L-30 -4.2L-30 4.2Z" transform="translate(180.7 682) rotate(180)"/>
<path class="a" d="M0 0L-30 -4.2L-30 4.2Z" transform="translate(422 682) rotate(0)"/>
<path class="a" d="M0 0L-30 -4.2L-30 4.2Z" transform="translate(164.3 720.6) rotate(180)"/>
<path class="a" d="M0 0L-30 -4.2L-30 4.2Z" transform="translate(438.4 720.6) rotate(0)"/>
<path class="a" d="M0 0L-29.5 -4.2L-29.5 4.2Z" transform="translate(475.53 393.13) rotate(225)"/>
<g id="labels" opacity="0.99">
<text class="t" transform="translate(548.1 168.4) rotate(-90) scale(0.641 1)" text-anchor="start" dx="0 0 0 4.3 4.7 1.55">476.20</text>
<text class="t" transform="translate(592.9 135.5) rotate(-90) scale(0.683 1)" text-anchor="middle">535</text>
<text class="t" transform="translate(23.7 456.8) rotate(-90) scale(0.657 1)" text-anchor="middle">750</text>
<text class="t" transform="translate(61.1 457.3) rotate(-90) scale(0.657 1)" text-anchor="middle">660</text>
<text class="t" transform="translate(305.7 673.8) rotate(0) scale(0.657 1)" text-anchor="middle">660</text>
<text class="t" transform="translate(305.7 712.8) rotate(0) scale(0.657 1)" text-anchor="middle">750</text>
<text class="t" transform="translate(589 496.3) rotate(45) scale(0.657 1)" text-anchor="start" dx="0 8.68 -2.4 1.5" dy="0 -1.2 0 0"><tspan font-size="24.4" textLength="29.68" lengthAdjust="spacingAndGlyphs">Ø</tspan>414</text>
</g>
</svg></body></html>
